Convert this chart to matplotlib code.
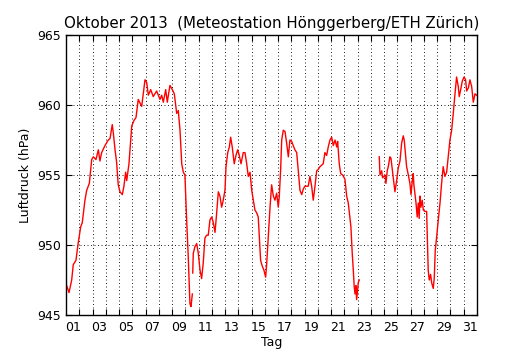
import numpy as np
import matplotlib
matplotlib.use("Agg")
import matplotlib.pyplot as plt

nan = np.nan
# time in days of October (1.0 = 1 Oct 00:00), pressure in hPa
day = [1.05, 1.23, 1.43, 1.55, 1.75, 1.93, 2.11, 2.23, 2.43, 2.56, 2.76, 2.94, 3.06, 3.26, 3.44,
       3.56, 3.69, 3.94, 4.19, 4.32, 4.49, 4.57, 4.70, 4.82, 4.94, 5.07, 5.25, 5.37, 5.50, 5.58,
       5.75, 5.96, 6.13, 6.28, 6.45, 6.71, 6.83, 6.96, 7.09, 7.21, 7.39, 7.58, 7.84, 8.09, 8.22,
       8.34, 8.52, 8.64, 8.84, 9.02, 9.17, 9.35, 9.47, 9.60, 9.73, 9.85, 9.97, 10.10, 10.22, 10.35,
       10.43, 10.53, 10.54, 10.56, 10.60, 10.73, 10.86, 10.98, 11.11, 11.23, 11.35, 11.48, 11.61, 11.73,
       11.86, 11.99, 12.11, 12.24, 12.34, 12.49, 12.61, 12.74, 12.86, 12.99, 13.07, 13.20, 13.32,
       13.42, 13.54, 13.69, 13.82, 13.95, 14.07, 14.20, 14.37, 14.50, 14.63, 14.75, 14.88, 15.01,
       15.13, 15.25, 15.38, 15.50, 15.58, 15.68, 15.80, 15.93, 16.06, 16.14, 16.26, 16.39, 16.51,
       16.64, 16.76, 16.89, 17.01, 17.09, 17.19, 17.27, 17.39, 17.52, 17.64, 17.77, 17.89, 18.02,
       18.14, 18.27, 18.40, 18.52, 18.65, 18.78, 18.90, 19.02, 19.27, 19.40, 19.53, 19.65, 19.78,
       19.91, 20.03, 20.16, 20.40, 20.53, 20.66, 20.78, 20.91, 21.04, 21.16, 21.29, 21.42, 21.49,
       21.61, 21.72, 21.87, 22.04, 22.17, 22.29, 22.42, 22.49, 22.59, 22.67, 22.74, 22.80, 22.87,
       22.92, 23.00, 23.04, 23.12, 23.8, 24.63, 24.68, 24.81, 24.88, 25.06, 25.13, 25.23, 25.31,
       25.43, 25.51, 25.61, 25.68, 25.81, 25.94, 26.06, 26.19, 26.32, 26.44, 26.51, 26.62, 26.69,
       26.82, 26.94, 27.02, 27.12, 27.19, 27.24, 27.40, 27.49, 27.57, 27.64, 27.70, 27.77, 27.87,
       27.95, 28.07, 28.20, 28.25, 28.32, 28.40, 28.50, 28.58, 28.70, 28.78, 28.85, 28.96, 29.08,
       29.21, 29.33, 29.45, 29.58, 29.71, 29.83, 29.96, 30.09, 30.21, 30.34, 30.46, 30.59, 30.66,
       30.77, 30.89, 31.02, 31.14, 31.22, 31.34, 31.47, 31.60, 31.72, 31.85, 31.97]
hpa = [947.1, 946.6, 947.5, 948.6, 948.9, 950.2, 951.3, 951.6, 953.2, 953.9, 954.4, 956.1, 956.3, 956.1, 956.8,
       956.0, 956.6, 957.1, 957.5, 957.6, 958.6, 958.0, 956.8, 955.9, 954.3, 953.8, 953.6, 954.2, 955.2, 954.6,
       955.8, 958.5, 958.9, 959.1, 960.4, 959.9, 960.8, 961.8, 961.6, 960.7, 961.1, 960.6, 961.0, 960.4, 960.7,
       960.2, 961.1, 960.2, 961.4, 961.1, 960.8, 959.4, 959.6, 958.2, 955.8, 955.2, 955.0, 951.8, 949.2, 945.8,
       945.6, 946.5, nan, 948.0, 949.4, 949.9, 950.1, 949.4, 948.2, 947.6, 948.7, 950.5, 950.7, 950.7,
       951.8, 952.0, 951.6, 950.9, 952.0, 953.8, 953.5, 952.7, 953.2, 953.9, 955.6, 956.6, 957.0,
       957.7, 957.0, 955.8, 956.4, 956.8, 956.4, 955.8, 956.6, 956.6, 955.8, 954.9, 955.2, 953.9,
       953.2, 952.5, 952.3, 952.0, 950.6, 948.9, 948.5, 948.2, 947.7, 948.7, 950.6, 952.7, 954.3,
       953.5, 953.2, 953.7, 952.7, 953.5, 955.4, 957.5, 958.2, 958.1, 957.3, 956.3, 957.5, 957.4,
       957.1, 956.8, 956.6, 955.3, 953.9, 953.6, 954.0, 954.2, 954.2, 954.9, 954.2, 953.2, 954.2,
       955.3, 955.4, 955.6, 955.8, 956.6, 956.4, 957.0, 957.5, 957.7, 957.1, 957.5, 957.0, 957.4,
       955.8, 955.1, 955.0, 954.7, 953.5, 953.0, 951.9, 951.3, 949.4, 948.2, 947.0, 946.5, 947.1,
       946.1, 946.8, 947.3, 947.5, nan, 956.3, 955.0, 955.3, 954.8, 955.0, 954.4, 955.3, 955.6,
       956.3, 956.2, 955.4, 954.8, 953.8, 954.6, 955.5, 956.0, 957.3, 957.8, 957.5, 956.3, 955.6,
       955.0, 954.4, 953.6, 954.6, 955.1, 954.3, 953.0, 952.0, 953.0, 951.9, 953.5, 952.7, 953.2,
       952.5, 952.4, 952.4, 950.6, 948.2, 947.5, 947.9, 947.3, 946.9, 947.7, 949.6, 950.6, 951.8,
       953.0, 954.4, 955.6, 954.9, 955.2, 956.3, 957.5, 958.2, 959.4, 960.8, 962.0, 961.3, 960.6,
       961.1, 961.7, 962.0, 961.8, 961.0, 961.2, 961.8, 961.3, 960.2, 960.8, 960.7]
label_days = list(range(1, 32, 2))
tick_labels = ["%02d" % d for d in label_days]
yticks = [945, 950, 955, 960, 965]

fig = plt.figure(figsize=(5.3, 3.5), dpi=100)
ax = fig.add_axes([0.1245, 0.1, 0.7755, 0.8])
ax.plot(day, hpa, color="red", lw=1.0)
ax.set_xlim(1, 32)
ax.set_ylim(945, 965)

# day boundaries (midnight) as major ticks with grid, labels at noon of odd days
ax.set_xticks(np.arange(2, 32))
ax.set_xticklabels([])
ax.set_xticks([d + 0.5 for d in label_days], minor=True)
ax.set_xticklabels(tick_labels, minor=True)
ax.set_yticks(yticks)
ax.set_yticklabels([str(v) for v in yticks])

ax.tick_params(axis="x", which="major", direction="in", length=4, width=0.8, top=True, bottom=True)
ax.tick_params(axis="x", which="minor", length=0, labelsize=9, pad=4)
ax.tick_params(axis="y", which="major", direction="in", length=4, width=0.8, left=True, right=True, labelsize=9)
ax.grid(True, which="major", color="black", linestyle=(0, (1.2, 3)), linewidth=0.6)

for s in ax.spines.values():
    s.set_linewidth(1.0)
    s.set_color("black")

ax.set_xlabel("Tag", fontsize=9, labelpad=2)
ax.set_ylabel("Luftdruck (hPa)", fontsize=9)
ax.set_title("Oktober 2013  (Meteostation Hönggerberg/ETH Zürich)", fontsize=10.8, pad=5)

fig.savefig("out.png", dpi=100, facecolor="white")
